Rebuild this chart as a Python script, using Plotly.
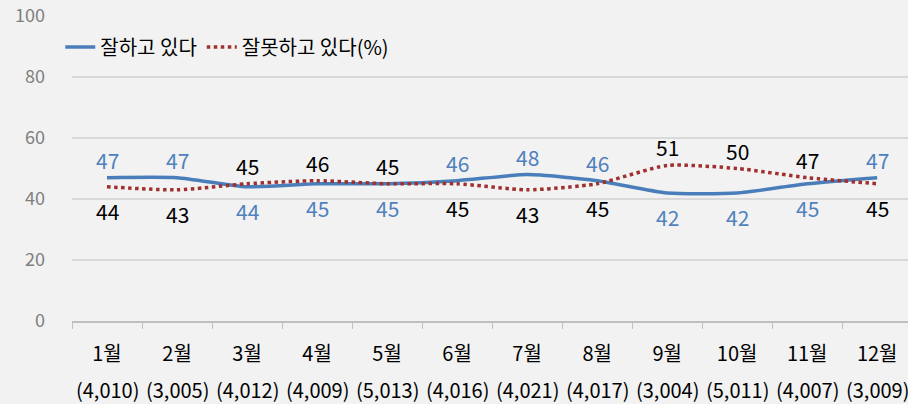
import plotly.graph_objects as go

months = ["1월", "2월", "3월", "4월", "5월", "6월", "7월", "8월", "9월", "10월", "11월", "12월"]
samples = ["(4,010)", "(3,005)", "(4,012)", "(4,009)", "(5,013)", "(4,016)",
           "(4,021)", "(4,017)", "(3,004)", "(5,011)", "(4,007)", "(3,009)"]
good = [47, 47, 44, 45, 45, 46, 48, 46, 42, 42, 45, 47]
bad = [44, 43, 45, 46, 45, 45, 43, 45, 51, 50, 47, 45]
y_ticks = [0, 20, 40, 60, 80, 100]

BLUE = "#4a7ebb"
BLUE_TXT = "#4f81bd"
RED = "#a0302d"
FONT = "Noto Sans CJK KR"

fig = go.Figure()
fig.add_trace(go.Scatter(x=months, y=good, mode="lines", name="잘하고 있다",
                         line=dict(color=BLUE, width=3.5, shape="spline", smoothing=0.6)))
fig.add_trace(go.Scatter(x=months, y=bad, mode="lines", name="잘못하고 있다(%)",
                         line=dict(color=RED, width=3.5, dash="dot", shape="spline", smoothing=0.6)))

ann = []
for m, g, b in zip(months, good, bad):
    g_above = g > b
    ann.append(dict(x=m, y=g, xref="x", yref="y", text=str(g), showarrow=False,
                    font=dict(size=21, color=BLUE_TXT, family=FONT),
                    yanchor="bottom" if g_above else "top", yshift=1 if g_above else -7))
    ann.append(dict(x=m, y=b, xref="x", yref="y", text=str(b), showarrow=False,
                    font=dict(size=21, color="#000000", family=FONT),
                    yanchor="top" if g_above else "bottom", yshift=-7 if g_above else 1))
for m, s in zip(months, samples):
    ann.append(dict(x=m, y=0, xref="x", yref="paper", text=s, showarrow=False,
                    font=dict(size=20, color="#000000", family=FONT),
                    yanchor="middle", yshift=-68))

fig.update_layout(
    width=908, height=404,
    margin=dict(l=72, r=0, t=16, b=83, autoexpand=False),
    paper_bgcolor="#f2f2f2", plot_bgcolor="#f2f2f2",
    font=dict(family=FONT, size=18, color="#000000"),
    showlegend=True,
    legend=dict(orientation="h", x=-0.014, y=0.898, xanchor="left", yanchor="middle",
                bgcolor="rgba(0,0,0,0)", font=dict(size=20, color="#000000", family=FONT)),
    annotations=ann,
    xaxis=dict(type="category", tickson="boundaries", ticks="outside", ticklen=6,
               tickcolor="#bfbfbf", showline=True, linecolor="#bfbfbf", linewidth=1.5,
               showgrid=False, range=[-0.5, 11.44], ticklabelstandoff=14, automargin=False,
               tickfont=dict(size=20, color="#000000", family=FONT), fixedrange=True),
    yaxis=dict(range=[0, 100], tickvals=y_ticks, showgrid=True, gridcolor="#d9d9d9",
               gridwidth=1.5, zeroline=False, showline=False, ticks="", automargin=False,
               ticklabelstandoff=26,
               tickfont=dict(size=18, color="#7f7f7f", family=FONT)),
)

fig.write_html("out.html", config={"displayModeBar": False},
               post_script="document.body.style.margin='0';document.body.style.background='#f2f2f2';")
